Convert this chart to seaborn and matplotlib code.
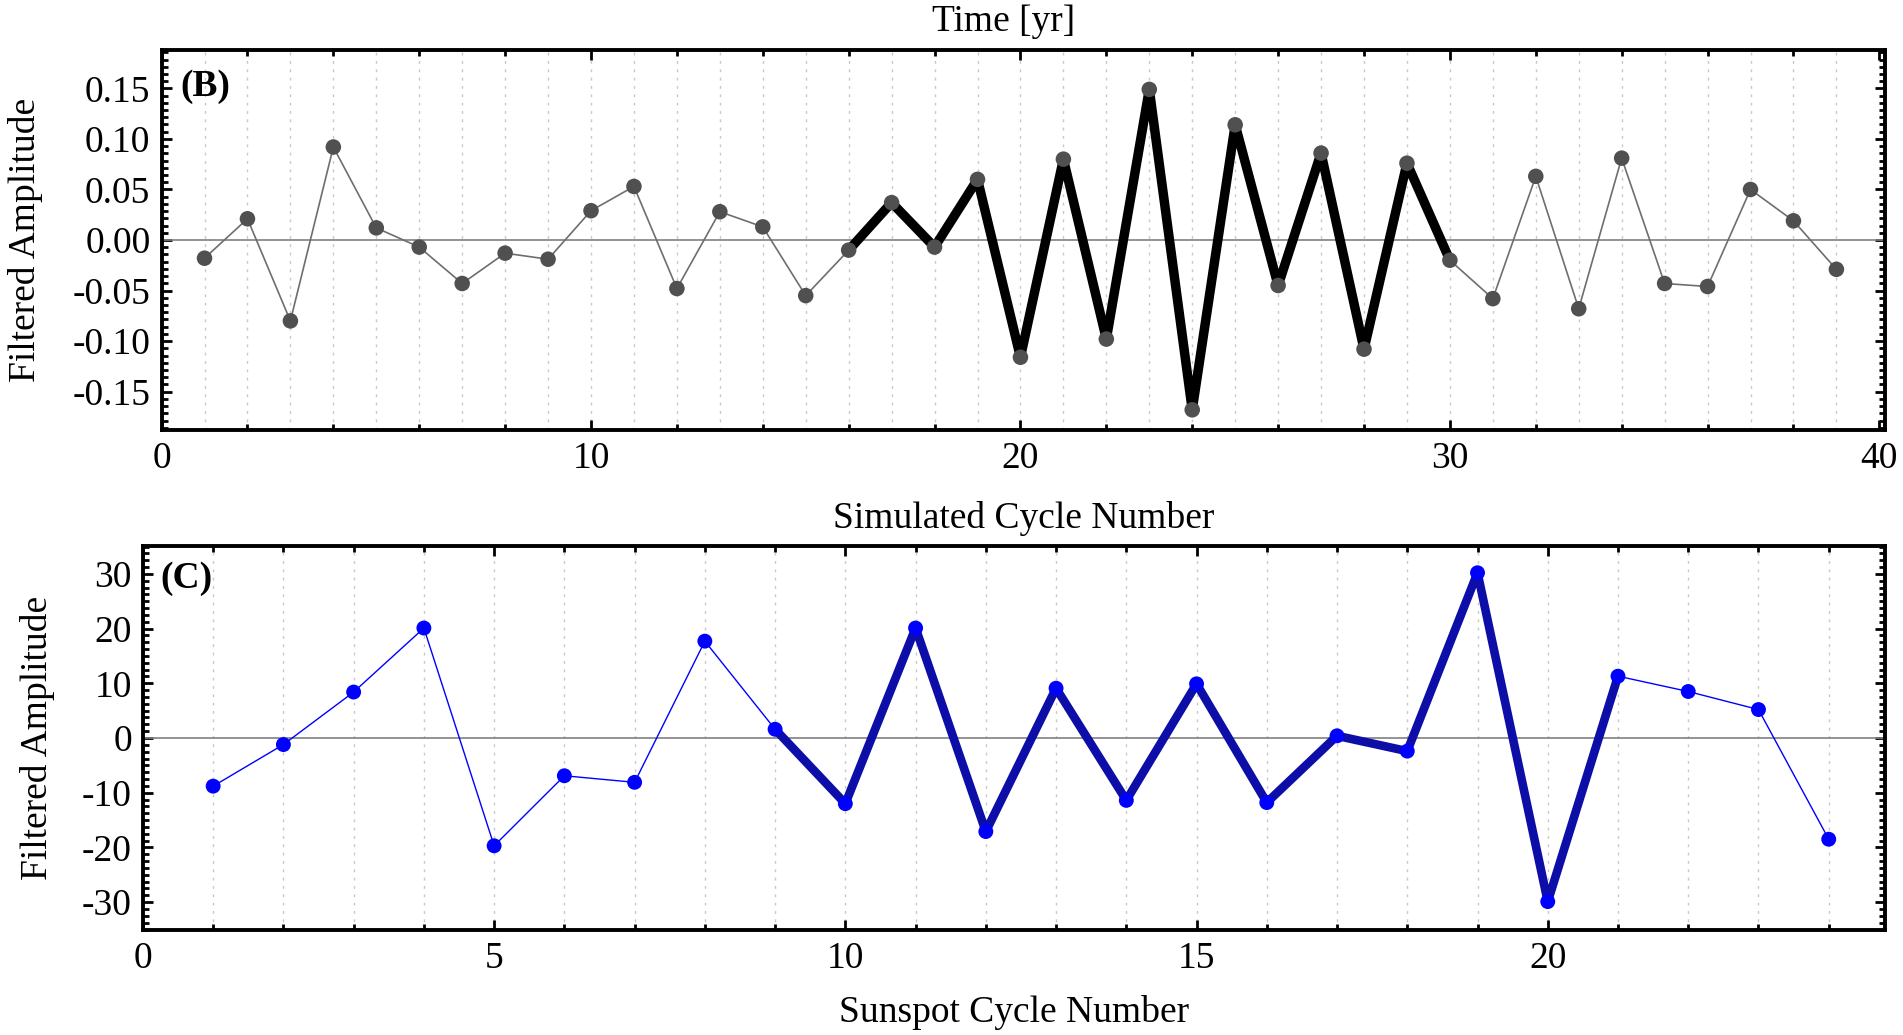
import numpy as np
import pandas as pd
import matplotlib
matplotlib.use("Agg")
import matplotlib.pyplot as plt
from matplotlib.ticker import MultipleLocator, AutoMinorLocator, FixedLocator
import seaborn as sns

# ---------------- data ----------------
sim_cycle = list(range(1, 40))
sim_amp = [-0.018, 0.021, -0.080, 0.092, 0.012, -0.007, -0.043, -0.013, -0.019, 0.029,
           0.053, -0.048, 0.028, 0.013, -0.055, -0.010, 0.037, -0.007, 0.060, -0.116,
           0.080, -0.098, 0.149, -0.168, 0.114, -0.045, 0.086, -0.108, 0.076, -0.020,
           -0.058, 0.063, -0.068, 0.081, -0.043, -0.046, 0.050, 0.019, -0.029]
sim_highlight = (16, 30)   # cycles drawn with the thick line

sun_cycle = list(range(1, 25))
sun_amp = [-8.8, -1.2, 8.4, 20.1, -19.7, -6.9, -8.1, 17.7, 1.6, -12.0,
           20.1, -17.1, 9.1, -11.4, 9.9, -11.8, 0.4, -2.4, 30.2, -29.9,
           11.3, 8.5, 5.2, -18.5]
sun_highlight = (9, 21)

top_xticks = [0, 10, 20, 30, 40]
top_yticks = [-0.15, -0.10, -0.05, 0.00, 0.05, 0.10, 0.15]
bot_xticks = [0, 5, 10, 15, 20]
bot_yticks = [-30, -20, -10, 0, 10, 20, 30]

df_sim = pd.DataFrame({"cycle": sim_cycle, "amp": sim_amp})
df_sun = pd.DataFrame({"cycle": sun_cycle, "amp": sun_amp})

# ---------------- style ----------------
sns.set_theme(style="white")
plt.rcParams["font.family"] = ["Liberation Serif", "DejaVu Serif"]
plt.rcParams["axes.unicode_minus"] = True
for k in ["text.color", "axes.labelcolor", "xtick.color", "ytick.color", "axes.edgecolor"]:
    plt.rcParams[k] = "black"
FS = 27

fig = plt.figure(figsize=(19.03, 10.35), dpi=100)
ax1 = fig.add_axes([0.0849, 0.5845, 0.9056, 0.3672])
ax2 = fig.add_axes([0.0751, 0.1014, 0.9154, 0.3711])


def style_axes(ax, xmax, ylim, xmajor, xminor, ymajor, yminor_n, ygrid, fmt):
    ax.set_xlim(0, xmax)
    ax.set_ylim(*ylim)
    ax.xaxis.set_major_locator(FixedLocator(xmajor))
    ax.xaxis.set_minor_locator(MultipleLocator(xminor))
    ax.yaxis.set_major_locator(FixedLocator(ymajor))
    ax.yaxis.set_minor_locator(AutoMinorLocator(yminor_n))
    ax.yaxis.set_major_formatter(fmt)
    ax.tick_params(which="both", direction="in", top=True, right=True,
                   bottom=True, left=True, width=2.0, color="black",
                   labelcolor="black")
    ax.tick_params(which="major", length=7, labelsize=FS, pad=8)
    ax.tick_params(which="minor", length=4)
    for s in ax.spines.values():
        s.set_linewidth(2.8)
        s.set_color("black")
    for g in ygrid:
        ax.axvline(g, color="#c8c8c8", lw=1.0, ls=(0, (2, 4)), zorder=0)
    ax.axhline(0, color="#808080", lw=1.2, zorder=1)
    ax.set_xlabel("")
    ax.set_ylabel("")
    ax.grid(False)


# ---------------- panel B ----------------
sub = df_sim[(df_sim.cycle >= sim_highlight[0]) & (df_sim.cycle <= sim_highlight[1])]
sns.lineplot(data=df_sim, x="cycle", y="amp", ax=ax1, color="#6e6e6e", lw=1.2, zorder=2)
sns.lineplot(data=sub, x="cycle", y="amp", ax=ax1, color="black", lw=6.8, zorder=3)
sns.scatterplot(data=df_sim, x="cycle", y="amp", ax=ax1, color="#505050", s=125,
                edgecolor="none", zorder=4)
style_axes(ax1, 40.13, (-0.188, 0.188), top_xticks, 2, top_yticks, 7,
           sim_cycle, matplotlib.ticker.FormatStrFormatter("%.2f"))
ax1.text(0.011, 0.905, "(B)", transform=ax1.transAxes, fontsize=FS,
         fontweight="bold", va="center", ha="left")

# ---------------- panel C ----------------
sub2 = df_sun[(df_sun.cycle >= sun_highlight[0]) & (df_sun.cycle <= sun_highlight[1])]
sns.lineplot(data=df_sun, x="cycle", y="amp", ax=ax2, color="#0000ff", lw=1.0, zorder=2)
sns.lineplot(data=sub2, x="cycle", y="amp", ax=ax2, color="#0d0da8", lw=6.2, zorder=3)
sns.scatterplot(data=df_sun, x="cycle", y="amp", ax=ax2, color="#0000ff", s=115,
                edgecolor="none", zorder=4)
style_axes(ax2, 24.8, (-35.1, 35.1), bot_xticks, 1, bot_yticks, 8,
           sun_cycle, matplotlib.ticker.FormatStrFormatter("%d"))
ax2.text(0.0098, 0.915, "(C)", transform=ax2.transAxes, fontsize=FS,
         fontweight="bold", va="center", ha="left")

# ---------------- labels ----------------
W, H = 1903, 1035
fig.text(1004 / W, 1 - 22 / H, "Time [yr]", fontsize=FS, ha="center", va="center")
fig.text(1024 / W, 1 - 518 / H, "Simulated Cycle Number", fontsize=FS, ha="center", va="center")
fig.text(1014 / W, 1 - 1013 / H, "Sunspot Cycle Number", fontsize=FS, ha="center", va="center")
fig.text(26 / W, 1 - 240 / H, "Filtered Amplitude", fontsize=FS, rotation=90,
         ha="center", va="center")
fig.text(38 / W, 1 - 738 / H, "Filtered Amplitude", fontsize=FS, rotation=90,
         ha="center", va="center")

fig.savefig("out.png", dpi=100, facecolor="white")
